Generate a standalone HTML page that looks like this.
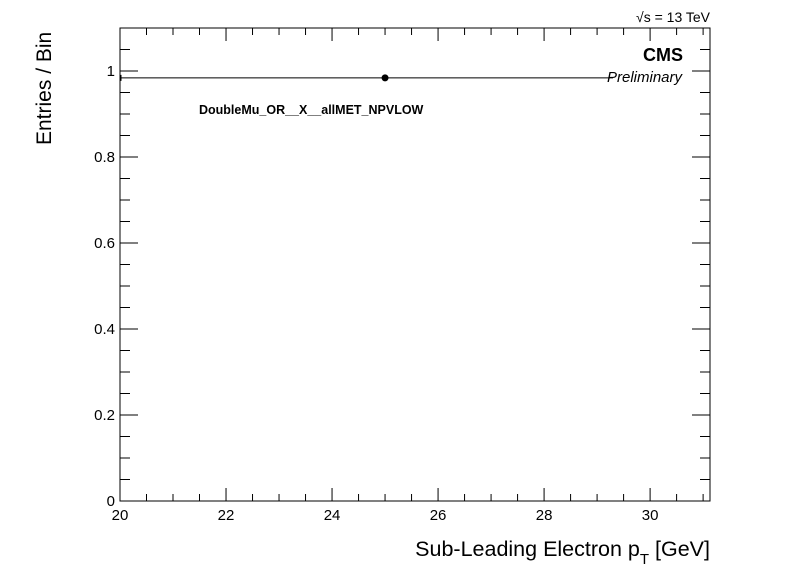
<!DOCTYPE html>
<html><head><meta charset="utf-8"><style>
body{margin:0;background:#fff;}
svg text{font-family:"Liberation Sans",sans-serif;}
</style></head><body>
<svg id="c" width="798" height="576" xmlns="http://www.w3.org/2000/svg">
<rect width="798" height="576" fill="#fff"/>
<g id="ax"></g>
<text x="710" y="22" font-size="14" text-anchor="end">√s = 13 TeV</text>
<text x="683" y="61" font-size="18" font-weight="bold" text-anchor="end">CMS</text>
<text x="682" y="82" font-size="15" font-style="italic" text-anchor="end">Preliminary</text>
<text x="199" y="114" font-size="12.5" font-weight="bold">DoubleMu_OR__X__allMET_NPVLOW</text>
<text x="710" y="556" font-size="21.5" text-anchor="end">Sub-Leading Electron p<tspan font-size="15" dy="8">T</tspan><tspan dy="-8"> [GeV]</tspan></text>
<text transform="translate(51,145) rotate(-90)" font-size="21">Entries / Bin</text>
</svg>
<script>
const xCenters=[25];
const xLow=[20];
const xHigh=[29.3];
const yValues=[0.984];
const xTicks=[20,22,24,26,28,30];
const yTicks=[0,0.2,0.4,0.6,0.8,1];
const X0=120,X1=710,Y0=501,Y1=28,xmin=20,xmax=31.13,ymin=0,ymax=1.1;
const sx=v=>X0+(v-xmin)/(xmax-xmin)*(X1-X0);
const sy=v=>Y0-(v-ymin)/(ymax-ymin)*(Y0-Y1);
const g=document.getElementById('ax');
const NS='http://www.w3.org/2000/svg';
function mk(t,a){const e=document.createElementNS(NS,t);for(const k in a)e.setAttribute(k,a[k]);g.appendChild(e);return e;}
const fr=mk('rect',{x:X0,y:Y1,width:X1-X0,height:Y0-Y1,fill:'none',stroke:'#000','stroke-width':1});


for(let v=20;v<=31.0001;v+=0.5){const x=sx(v);const maj=Math.abs(v/2-Math.round(v/2))<1e-6;const L=maj?13:7;
const t=mk('line',{x1:x,x2:x,y1:Y0,y2:Y0-L,stroke:'#000'});


const t2=mk('line',{x1:x,x2:x,y1:Y1,y2:Y1+L,stroke:'#000'});

}
for(let i=0;i<=22;i++){const v=i*0.05;const y=sy(v);const maj=i%4==0;const L=maj?18:10;
const t=mk('line',{x1:X0,x2:X0+L,y1:y,y2:y,stroke:'#000'});


const t2=mk('line',{x1:X1,x2:X1-L,y1:y,y2:y,stroke:'#000'});

}
xTicks.forEach(v=>{const t=mk('text',{x:sx(v),y:Y0+19,'font-size':15,'text-anchor':'middle'});t.textContent=v;

});
yTicks.forEach(v=>{const t=mk('text',{x:X0-5,y:sy(v)+5,'font-size':15,'text-anchor':'end'});t.textContent=v;

});
xCenters.forEach((c,i)=>{const y=sy(yValues[i]);
const l=mk('line',{x1:sx(xLow[i])+1,x2:sx(xHigh[i]),y1:y,y2:y,stroke:'#000'});


const cap=mk('line',{x1:sx(xLow[i])+1,x2:sx(xLow[i])+1,y1:y-3,y2:y+3,stroke:'#000'});


const p=mk('circle',{cx:sx(c),cy:y,r:3.5,fill:'#000'});

});
</script>
</body></html>
